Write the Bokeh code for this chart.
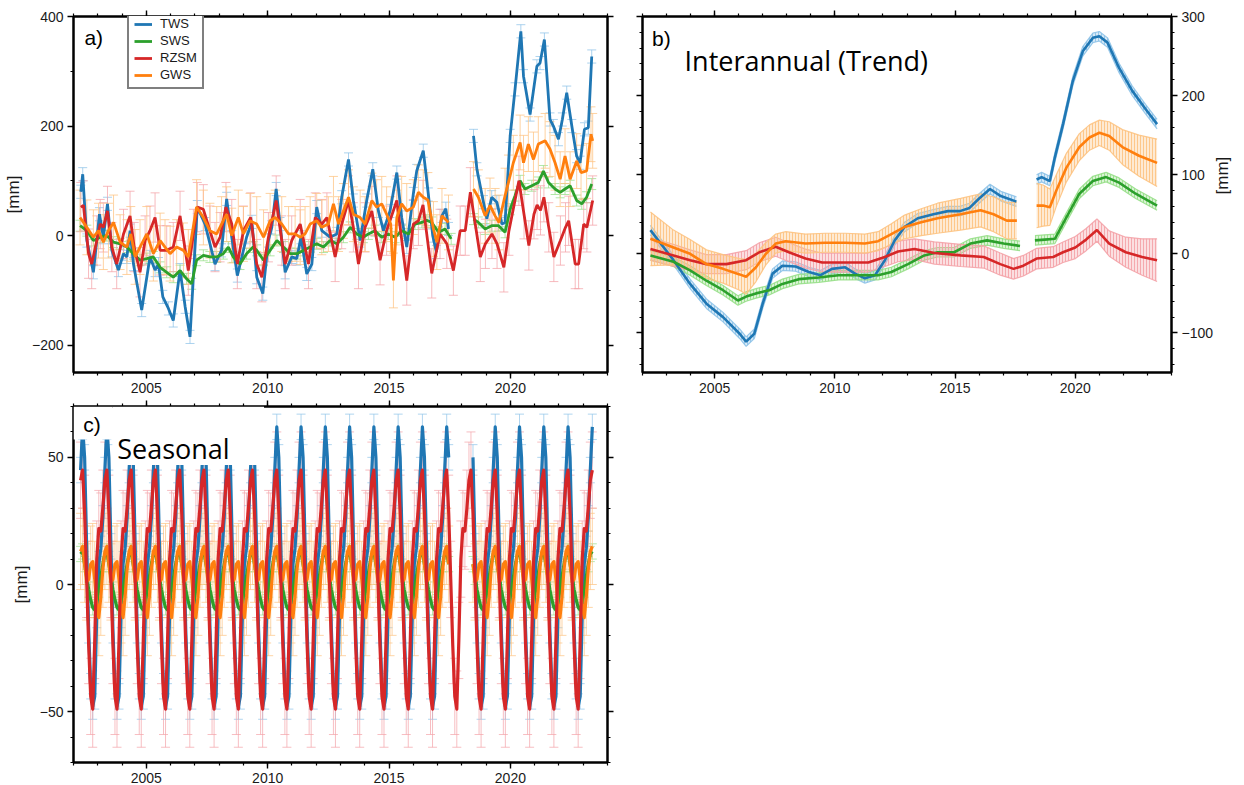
import math
from bokeh.plotting import figure
from bokeh.models import (LinearAxis, Range1d, FixedTicker, Whisker, TeeHead,
                          ColumnDataSource, Legend, LegendItem, Label, BoxAnnotation,
                          CustomJSTickFormatter)
from bokeh.layouts import column, row
from bokeh.embed import file_html
from bokeh.resources import INLINE

nan = float("nan")

# ------------------------------------------------------------------ data
year_major = [2005, 2010, 2015, 2020]
year_minor = list(range(2002, 2025))

# panel a) full signal  (decimal year, mm)
a_tws = [(2002.30, 80), (2002.38, 112), (2002.55, -9), (2002.82, -67), (2003.07, 39), (2003.23, -3),
         (2003.40, 58), (2003.58, -27), (2003.85, -63), (2004.06, -33), (2004.20, -39), (2004.33, 9),
         (2004.47, -52), (2004.81, -136), (2005.15, -39), (2005.36, -63), (2005.50, -52), (2005.68, -112),
         (2005.91, -133), (2006.11, -155), (2006.39, -63), (2006.60, -130), (2006.80, -185), (2007.10, 52),
         (2007.42, 21), (2007.83, -52), (2008.10, -27), (2008.31, 67), (2008.52, -3), (2008.75, -73),
         (2009.13, -3), (2009.35, 25), (2009.55, -76), (2009.80, -106), (2010.03, -9), (2010.17, 15),
         (2010.35, 85), (2010.51, 21), (2010.72, -67), (2010.99, -39), (2011.20, -42), (2011.37, -3),
         (2011.61, -70), (2011.82, -52), (2012.02, 52), (2012.23, 9), (2012.57, -3), (2012.85, 3),
         (2013.05, 70), (2013.33, 139), (2013.53, 64), (2013.81, -9), (2014.08, 64), (2014.33, 121),
         (2014.56, 45), (2014.77, 9), (2015.04, 45), (2015.32, 115), (2015.52, 33), (2015.73, -21),
         (2016.00, 76), (2016.14, 118), (2016.41, 155), (2016.62, 75), (2016.80, 0), (2016.95, -30),
         (2017.18, 36), (2017.34, 49), (2017.45, 12), (2017.90, nan),
         (2018.48, 182), (2018.62, 121), (2018.89, 61), (2019.03, 31), (2019.23, 70), (2019.44, 61),
         (2019.65, 21), (2019.78, 24), (2019.99, 182), (2020.19, 267), (2020.43, 373), (2020.54, 291),
         (2020.81, 221), (2021.09, 309), (2021.22, 315), (2021.40, 358), (2021.63, 212), (2021.77, 200),
         (2021.98, 176), (2022.14, 212), (2022.32, 261), (2022.53, 200), (2022.73, 145), (2022.87, 133),
         (2023.05, 194), (2023.21, 197), (2023.35, 327)]

a_sws = [(2002.27, 18), (2002.55, 9), (2002.82, -9), (2003.10, -3), (2003.37, 0), (2003.65, -12),
         (2003.92, -15), (2004.20, -21), (2004.47, -33), (2004.74, -45), (2005.02, -42), (2005.29, -39),
         (2005.57, -58), (2005.84, -67), (2006.11, -76), (2006.39, -64), (2006.66, -79), (2006.87, -88),
         (2007.07, -45), (2007.35, -36), (2007.62, -39), (2007.90, -39), (2008.17, -33), (2008.38, -21),
         (2008.58, -39), (2008.86, -52), (2009.13, -33), (2009.40, -21), (2009.55, -27), (2009.83, -45),
         (2010.10, -27), (2010.38, -9), (2010.65, -21), (2010.93, -33), (2011.20, -33), (2011.48, -27),
         (2011.75, -21), (2012.02, -15), (2012.30, -21), (2012.57, -9), (2012.85, -15), (2013.12, -3),
         (2013.40, 15), (2013.67, 3), (2013.94, -3), (2014.15, 3), (2014.42, 9), (2014.70, -3),
         (2014.97, 3), (2015.25, -3), (2015.52, 9), (2015.80, 3), (2016.07, 21), (2016.35, 24),
         (2016.55, 28), (2016.76, 24), (2017.04, 6), (2017.31, 12), (2017.56, -6), (2017.90, nan),
         (2018.48, 30), (2018.68, 24), (2018.96, 12), (2019.23, 18), (2019.51, 18), (2019.78, 6),
         (2019.99, 48), (2020.19, 73), (2020.40, 100), (2020.60, 85), (2020.88, 91), (2021.15, 97),
         (2021.36, 118), (2021.57, 97), (2021.84, 85), (2022.05, 79), (2022.25, 85), (2022.46, 91),
         (2022.73, 64), (2022.94, 58), (2023.14, 70), (2023.35, 94)]

a_rzsm = [(2002.30, 52), (2002.41, 55), (2002.62, -33), (2002.75, -52), (2002.96, -9), (2003.10, 21),
          (2003.23, 15), (2003.40, 45), (2003.58, -21), (2003.78, -52), (2004.06, 3), (2004.33, 36),
          (2004.50, -21), (2004.74, -67), (2004.95, -9), (2005.15, 9), (2005.36, 33), (2005.57, -27),
          (2005.84, -27), (2006.11, -21), (2006.39, 36), (2006.73, -64), (2006.94, 3), (2007.10, 52),
          (2007.35, 48), (2007.62, 9), (2007.83, -21), (2008.04, -3), (2008.28, 52), (2008.52, 21),
          (2008.75, -52), (2009.00, 9), (2009.30, 33), (2009.55, -52), (2009.76, -76), (2010.03, -3),
          (2010.35, 64), (2010.58, -9), (2010.72, -52), (2010.99, -9), (2011.34, 21), (2011.68, -52),
          (2011.96, 33), (2012.23, 21), (2012.44, 33), (2012.78, -39), (2013.05, 21), (2013.33, 64),
          (2013.53, 15), (2013.74, -52), (2014.01, 15), (2014.29, 45), (2014.63, -45), (2014.90, 9),
          (2015.32, 64), (2015.73, -82), (2016.00, 21), (2016.21, 27), (2016.40, 56), (2016.76, -69),
          (2017.10, 3), (2017.38, -15), (2017.65, -64), (2017.93, 9), (2018.14, 9), (2018.35, 79),
          (2018.76, -39), (2018.97, -15), (2019.24, 3), (2019.45, -15), (2019.73, -58), (2019.94, 9),
          (2020.35, 100), (2020.56, 39), (2020.76, -18), (2020.97, 39), (2021.10, 56), (2021.24, 46),
          (2021.38, 70), (2021.58, 15), (2021.79, -39), (2022.06, -9), (2022.27, 15), (2022.40, 27),
          (2022.67, -52), (2022.81, -52), (2023.02, 21), (2023.15, 15), (2023.39, 64)]

a_gws = [(2002.27, 33), (2002.55, 15), (2002.82, -3), (2003.03, 9), (2003.23, -12), (2003.44, 9),
         (2003.65, 24), (2003.92, -12), (2004.20, -21), (2004.36, 3), (2004.54, -39), (2004.74, -21),
         (2005.02, 3), (2005.29, -33), (2005.57, -9), (2005.77, -21), (2005.98, -33), (2006.25, -21),
         (2006.53, -27), (2006.73, -39), (2007.07, 52), (2007.35, 33), (2007.62, 9), (2007.90, 3),
         (2008.10, 21), (2008.31, 39), (2008.52, 0), (2008.79, 33), (2009.00, 3), (2009.27, 27),
         (2009.55, 21), (2009.83, -3), (2010.10, 27), (2010.31, 33), (2010.58, 21), (2010.86, 3),
         (2011.13, 3), (2011.34, -3), (2011.54, 3), (2011.75, 21), (2012.02, 27), (2012.23, 15),
         (2012.50, 21), (2012.71, 58), (2012.92, 21), (2013.12, 45), (2013.33, 70), (2013.53, 39),
         (2013.81, 33), (2014.01, 21), (2014.29, 64), (2014.49, 52), (2014.70, 58), (2014.90, 39),
         (2015.07, 21), (2015.18, -82), (2015.32, 33), (2015.52, 58), (2015.73, 45), (2016.00, 52),
         (2016.21, 79), (2016.41, 70), (2016.60, 65), (2016.83, 12), (2016.97, -12), (2017.18, 36),
         (2017.45, 24), (2017.90, nan),
         (2018.48, 85), (2018.68, 70), (2018.96, 36), (2019.16, 55), (2019.37, 36), (2019.53, 24),
         (2019.78, 73), (2019.92, 97), (2020.12, 133), (2020.40, 170), (2020.54, 133), (2020.74, 167),
         (2020.95, 139), (2021.15, 167), (2021.43, 173), (2021.63, 158), (2021.84, 133), (2022.05, 103),
         (2022.25, 145), (2022.46, 103), (2022.73, 136), (2022.91, 115), (2023.14, 118), (2023.32, 185),
         (2023.39, 173)]

a_err_tws, a_err_sws, a_err_rzsm, a_err_gws = 12, 10, 45, 50

# panel b) interannual trend  (decimal year, mm, +/- mm)
b_tws = [(2002.33, 30), (2003.29, -8), (2003.98, -38), (2004.66, -63), (2005.35, -80), (2006.04, -101),
         (2006.31, -111), (2006.65, -101), (2007.00, -63), (2007.41, -25), (2007.82, -15), (2008.37, -16),
         (2008.92, -23), (2009.40, -27), (2009.88, -19), (2010.43, -17), (2010.84, -25), (2011.25, -31),
         (2011.67, -27), (2012.08, -8), (2012.49, 17), (2012.90, 34), (2013.45, 45), (2014.10, 50),
         (2014.70, 54), (2015.20, 54), (2015.60, 58), (2016.00, 70), (2016.45, 82), (2016.90, 73),
         (2017.55, 66), (2017.90, nan),
         (2018.39, 94), (2018.60, 97), (2018.94, 92), (2019.15, 122), (2019.49, 164), (2019.90, 219),
         (2020.31, 256), (2020.73, 273), (2021.00, 275), (2021.34, 267), (2021.82, 235), (2022.37, 206),
         (2022.92, 183), (2023.40, 164)]
b_err_tws = 6

b_sws = [(2002.33, -2), (2003.29, -10), (2003.98, -21), (2004.66, -34), (2005.35, -46), (2005.97, -59),
         (2006.31, -54), (2006.72, -50), (2007.27, -46), (2007.82, -38), (2008.50, -32), (2009.33, -30),
         (2010.15, -27), (2010.98, -27), (2011.80, -27), (2012.35, -23), (2013.04, -13), (2013.72, -2),
         (2014.27, 2), (2014.96, 2), (2015.64, 13), (2016.33, 17), (2017.02, 13), (2017.70, 10),
         (2017.95, nan),
         (2018.32, 17), (2018.73, 18), (2019.15, 19), (2019.63, 46), (2020.17, 76), (2020.73, 92),
         (2021.28, 97), (2021.82, 90), (2022.51, 76), (2023.40, 61)]
b_err_sws = 6

b_rzsm = [(2002.33, 6), (2003.29, -2), (2003.98, -8), (2004.66, -13), (2005.49, -13), (2006.31, -8),
          (2006.86, 2), (2007.54, 9), (2008.09, 2), (2008.78, -6), (2009.47, -11), (2010.43, -11),
          (2011.39, -11), (2012.08, -4), (2012.63, 3), (2013.31, 6), (2014.14, 1), (2015.23, -2),
          (2016.19, -4), (2016.88, -13), (2017.43, -19), (2017.84, -15), (2018.39, -6), (2019.08, -4),
          (2019.49, 2), (2020.00, 8), (2020.45, 18), (2020.90, 30), (2021.41, 13), (2022.10, 2),
          (2022.78, -4), (2023.40, -8)]
b_err_rzsm = [14, 14, 13, 12, 12, 12, 12, 12, 12, 12, 12, 12, 12, 12, 13, 13, 14, 14, 14, 14, 13, 13,
              13, 13, 13, 14, 14, 14, 16, 19, 23, 27]

b_gws = [(2002.33, 19), (2003.29, 8), (2003.98, 0), (2004.66, -13), (2005.35, -19), (2006.04, -26),
         (2006.31, -29), (2006.72, -17), (2007.13, 0), (2007.54, 13), (2007.96, 16), (2008.78, 13),
         (2009.60, 14), (2010.43, 14), (2011.25, 13), (2011.80, 16), (2012.35, 25), (2012.90, 34),
         (2013.59, 40), (2014.27, 45), (2015.23, 50), (2016.06, 55), (2016.60, 50), (2017.15, 42),
         (2017.57, 42), (2017.90, nan),
         (2018.39, 61), (2018.66, 61), (2018.94, 59), (2019.21, 80), (2019.63, 109), (2020.17, 135),
         (2020.59, 147), (2021.00, 153), (2021.41, 149), (2021.96, 135), (2022.65, 124), (2023.40, 115)]
b_err_gws = [34, 22, 18, 18, 18, 20, 22, 18, 14, 12, 12, 12, 12, 12, 12, 12, 13, 15, 17, 19, 20, 21,
             22, 23, 23, nan, 28, 26, 23, 20, 18, 17, 16, 16, 18, 22, 26, 30]

# panel c) seasonal cycle, monthly values Jan..Dec (mm) and +/- mm
c_tws_cycle = [8, 14, 26, 45, 62, 50, 15, -18, -40, -48, -44, -12]
c_sws_cycle = [-2, 3, 8, 12, 13, 8, 3, -2, -6, -9, -10, -7]
c_rzsm_cycle = [22, 21, 30, 41, 45, 28, 2, -24, -44, -49, -22, 10]
c_gws_cycle = [-13, -5, 6, 13, 15, 8, 1, 2, 8, 9, 2, -8]
c_err_tws, c_err_sws, c_err_rzsm, c_err_gws = 5, 3, 15, 15
c_start, c_end = 2002.29, 2023.38        # first / last monthly sample
c_gap = (2017.50, 2018.42)               # GRACE / GRACE-FO gap

# ------------------------------------------------------------------ style
COL = {"TWS": "#1f77b4", "SWS": "#2ca02c", "RZSM": "#d62728", "GWS": "#ff7f0e"}
LIGHT = {"TWS": "#8fc3e8", "SWS": "#98df8a", "RZSM": "#f4a3a8", "GWS": "#fdc382"}
FONT = "Liberation Sans"
MINUS = "return tick < 0 ? '\u2212' + (-tick) : '' + tick;"


def unzip(pts):
    return [p[0] for p in pts], [p[1] for p in pts]


def as_list(err, n):
    return list(err) if isinstance(err, (list, tuple)) else [err] * n


def segments(t, v, e):
    segs, cur = [], ([], [], [])
    for ti, vi, ei in zip(t, v, e):
        if vi != vi:
            if cur[0]:
                segs.append(cur)
            cur = ([], [], [])
        else:
            cur[0].append(ti); cur[1].append(vi); cur[2].append(ei)
    if cur[0]:
        segs.append(cur)
    return segs


def whiskers(p, t, v, err, name, size, alpha):
    e = as_list(err, len(t))
    xs, lo, hi = [], [], []
    for ti, vi, ei in zip(t, v, e):
        if vi == vi:
            xs.append(ti); lo.append(vi - ei); hi.append(vi + ei)
    src = ColumnDataSource(dict(x=xs, lo=lo, hi=hi))
    c = LIGHT[name]
    w = Whisker(source=src, base="x", lower="lo", upper="hi", dimension="height",
                level="underlay", line_color=c, line_alpha=alpha, line_width=1,
                upper_head=TeeHead(size=size, line_color=c, line_alpha=alpha, line_width=1),
                lower_head=TeeHead(size=size, line_color=c, line_alpha=alpha, line_width=1))
    p.add_layout(w)


def band(p, t, v, err, name):
    e = as_list(err, len(t))
    c = LIGHT[name]
    for st, sv, se in segments(t, v, e):
        lo = [a - b for a, b in zip(sv, se)]
        hi = [a + b for a, b in zip(sv, se)]
        p.varea(x=st, y1=lo, y2=hi, fill_color=c, fill_alpha=0.35,
                hatch_pattern="|", hatch_color=c, hatch_alpha=0.9, hatch_scale=3, hatch_weight=1)
        p.line(st, hi, line_color=c, line_width=1.2, line_alpha=0.9)
        p.line(st, lo, line_color=c, line_width=1.2, line_alpha=0.9)


def style_axis(ax, major, minor, labels):
    ax.ticker = FixedTicker(ticks=major, minor_ticks=minor)
    ax.axis_line_color = "black"
    ax.axis_line_width = 2
    ax.major_tick_in = 0
    ax.major_tick_out = 6
    ax.minor_tick_in = 0
    ax.minor_tick_out = 3
    ax.major_tick_line_width = 1.4
    ax.minor_tick_line_width = 1.2
    ax.major_tick_line_color = "black"
    ax.minor_tick_line_color = "black"
    if labels:
        ax.formatter = CustomJSTickFormatter(code=MINUS)
        ax.major_label_text_font = FONT
        ax.major_label_text_font_size = "14px"
        ax.major_label_text_color = "#1a1a1a"
        ax.major_label_standoff = 4
    else:
        ax.formatter = CustomJSTickFormatter(code="return '';")
        ax.major_label_text_font_size = "0px"
        ax.major_label_standoff = 0


def ylabel(ax, right=False):
    ax.axis_label = "[mm]"
    ax.axis_label_text_font = FONT
    ax.axis_label_text_font_size = "17px"
    ax.axis_label_text_font_style = "normal"
    ax.axis_label_text_color = "#1a1a1a"
    ax.axis_label_standoff = 6
    if right:
        ax.axis_label_orientation = math.pi / 2


def base_fig(w, h, ylo, yhi, bl, br, bt, bb):
    p = figure(width=w, height=h, x_range=Range1d(2002, 2024), y_range=Range1d(ylo, yhi),
               output_backend="svg", toolbar_location=None,
               min_border_left=bl, min_border_right=br, min_border_top=bt, min_border_bottom=bb,
               background_fill_color="white", border_fill_color="white",
               outline_line_color="black", outline_line_width=2)
    p.xgrid.visible = False
    p.ygrid.visible = False
    style_axis(p.xaxis[0], year_major, year_minor, True)
    top = LinearAxis()
    style_axis(top, year_major, year_minor, False)
    p.add_layout(top, "above")
    return p


def label(p, x, y, text, font, size, baseline="top"):
    p.add_layout(Label(x=x, y=y, text=text, text_font=font, text_font_size=size,
                       text_baseline=baseline, text_color="black"))


# ------------------------------------------------------------------ panel a
pa = base_fig(622, 395, -250, 400, 73, 15, 16, 22)
a_ticks = [-200, 0, 200, 400]
a_minor = list(range(-200, 401, 100))
style_axis(pa.yaxis[0], a_ticks, a_minor, True)
ylabel(pa.yaxis[0])
ra = LinearAxis()
style_axis(ra, a_ticks, a_minor, False)
pa.add_layout(ra, "right")

a_series = [("TWS", a_tws, a_err_tws), ("SWS", a_sws, a_err_sws),
            ("RZSM", a_rzsm, a_err_rzsm), ("GWS", a_gws, a_err_gws)]
for name, pts, err in a_series:
    t, v = unzip(pts)
    whiskers(pa, t, v, err, name, 9, 0.75)
a_rend = {}
for name, pts, err in a_series:
    t, v = unzip(pts)
    a_rend[name] = pa.line(t, v, line_color=COL[name], line_width=2.8)

leg = Legend(items=[LegendItem(label=n, renderers=[a_rend[n]]) for n in ["TWS", "SWS", "RZSM", "GWS"]],
             location=(54, 283), border_line_color="black", border_line_width=2,
             background_fill_color="white", background_fill_alpha=1,
             label_text_font=FONT, label_text_font_size="13px", label_text_color="#1a1a1a",
             glyph_width=18, glyph_height=12, label_height=12, spacing=2, padding=5,
             label_standoff=8, margin=0)
pa.add_layout(leg)
label(pa, 2002.45, 382, "a)", FONT, "21px")

# ------------------------------------------------------------------ panel b
pb = base_fig(622, 395, -150, 300, 20, 67, 16, 22)
b_ticks = [-100, 0, 100, 200, 300]
b_minor = list(range(-140, 301, 20))
style_axis(pb.yaxis[0], b_ticks, b_minor, False)
rb = LinearAxis()
style_axis(rb, b_ticks, b_minor, True)
ylabel(rb, right=True)
pb.add_layout(rb, "right")

b_series = [("TWS", b_tws, b_err_tws), ("SWS", b_sws, b_err_sws),
            ("RZSM", b_rzsm, b_err_rzsm), ("GWS", b_gws, b_err_gws)]
for name, pts, err in b_series:
    t, v = unzip(pts)
    band(pb, t, v, err, name)
for name, pts, err in b_series:
    t, v = unzip(pts)
    pb.line(t, v, line_color=COL[name], line_width=2.6)
label(pb, 2002.4, 287, "b)", FONT, "21px")
label(pb, 2003.75, 244, "Interannual (Trend)", "Open Sans", "27px", "alphabetic")

# ------------------------------------------------------------------ panel c
pc = base_fig(622, 390, -70, 70, 73, 15, 11, 22)
c_ticks = [-50, 0, 50]
c_minor = list(range(-70, 71, 10))
style_axis(pc.yaxis[0], c_ticks, c_minor, True)
ylabel(pc.yaxis[0])
rc = LinearAxis()
style_axis(rc, c_ticks, c_minor, False)
pc.add_layout(rc, "right")


def tile(cycle, with_gap):
    t, v = [], []
    gap_done = False
    for yr in range(2002, 2024):
        for m in range(12):
            x = yr + (m + 0.5) / 12.0
            if x < c_start or x > c_end:
                continue
            if with_gap and c_gap[0] < x < c_gap[1]:
                if not gap_done:
                    t.append(x); v.append(nan); gap_done = True
                continue
            t.append(x); v.append(cycle[m])
    return t, v


c_series = [("TWS", c_tws_cycle, c_err_tws, True), ("SWS", c_sws_cycle, c_err_sws, True),
            ("GWS", c_gws_cycle, c_err_gws, True), ("RZSM", c_rzsm_cycle, c_err_rzsm, False)]
for name, cyc, err, gap in c_series:
    t, v = tile(cyc, gap)
    whiskers(pc, t, v, err, name, 9, 0.7)
for name, cyc, err, gap in c_series:
    t, v = tile(cyc, gap)
    pc.line(t, v, line_color=COL[name], line_width=3.2, line_join="round")

# white boxes behind the panel labels (as in the original figure)
pc.add_layout(BoxAnnotation(left=2002.0, right=2003.6, bottom=57, top=70,
                            fill_color="white", fill_alpha=1, line_color=None))
pc.add_layout(BoxAnnotation(left=2003.6, right=2009.85, bottom=47, top=70,
                            fill_color="white", fill_alpha=1, line_color=None))
label(pc, 2002.4, 67.5, "c)", FONT, "21px")
label(pc, 2003.8, 53.5, "Seasonal", "Open Sans", "27px", "alphabetic")

layout = column(row(pa, pb), pc)
open("out.html", "w").write(file_html(layout, INLINE))
